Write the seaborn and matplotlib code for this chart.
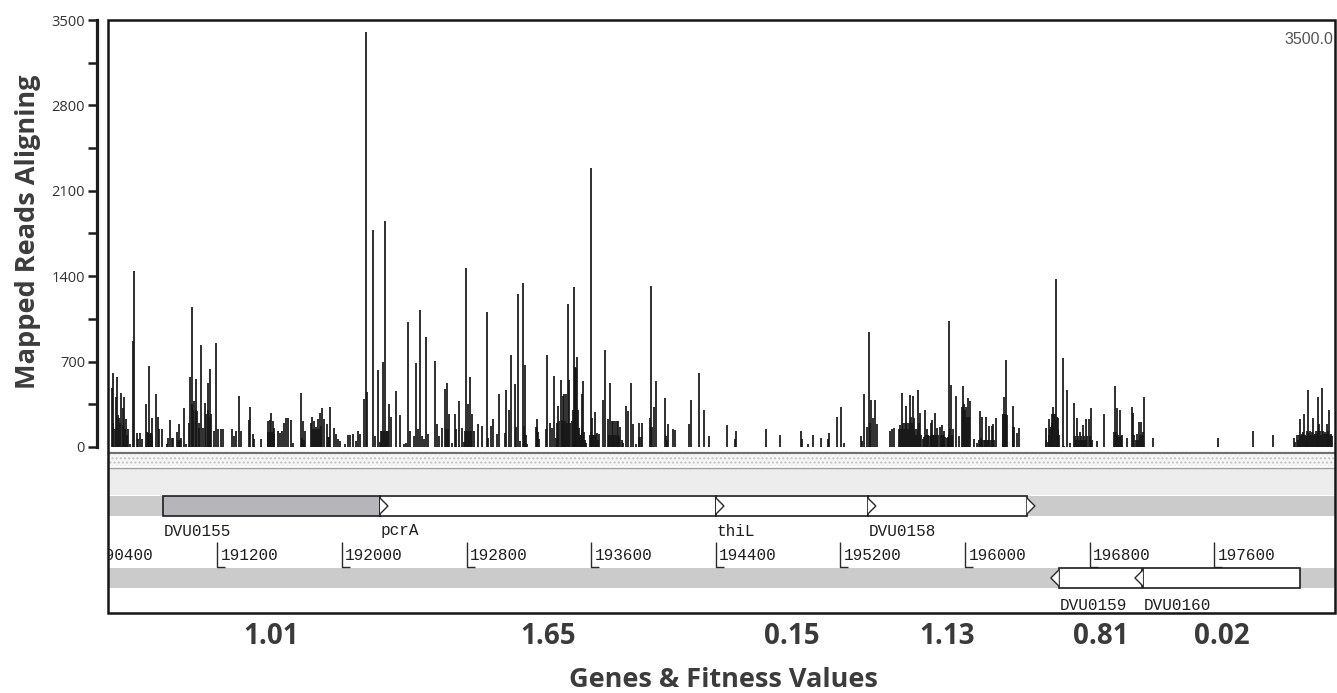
import matplotlib
matplotlib.use("Agg")
import matplotlib.pyplot as plt
from matplotlib.patches import Rectangle, Polygon
from matplotlib.ticker import MultipleLocator, FixedLocator
import pandas as pd
import seaborn as sns

# ---------------------------------------------------------------- data
# read depth: genome coordinate (bp) and number of mapped reads
read_pos = [
    190522, 190528, 190547, 190556, 190569, 190581, 190592, 190601, 190614, 190628,
    190641, 190657, 190665, 190682, 190693, 190705, 190716, 190742, 190753, 190763,
    190772, 190783, 190806, 190817, 190827, 190845, 190875, 190883, 190896, 190907,
    190917, 190943, 190956, 190967, 190986, 190997, 191024, 191035, 191050, 191061,
    191071, 191084, 191095, 191106, 191123, 191137, 191151, 191161, 191180, 191193,
    191206, 191221, 191234, 191294, 191307, 191320, 191337, 191354, 191403, 191411,
    191431, 191437, 191482, 191523, 191535, 191544, 191557, 191566, 191589, 191602,
    191615, 191630, 191641, 191655, 191671, 191684, 191735, 191752, 191763, 191799,
    191808, 191821, 191836, 191849, 191860, 191871, 191882, 191906, 191923, 191949,
    191964, 191975, 191985, 192021, 192038, 192053, 192068, 192090, 192100, 192113,
    192139, 192152, 192158, 192199, 192214, 192229, 192244, 192263, 192276, 192287,
    192300, 192315, 192345, 192372, 192400, 192411, 192426, 192437, 192465, 192474,
    192489, 192502, 192512, 192527, 192540, 192554, 192597, 192612, 192625, 192644,
    192661, 192672, 192687, 192708, 192725, 192734, 192749, 192769, 192783, 192796,
    192807, 192822, 192834, 192846, 192875, 192901, 192929, 192939, 192957, 192971,
    192993, 193010, 193046, 193055, 193074, 193085, 193109, 193117, 193128, 193143,
    193164, 193173, 193186, 193246, 193254, 193267, 193310, 193318, 193335, 193346,
    193361, 193373, 193388, 193405, 193416, 193427, 193439, 193451, 193459, 193475,
    193489, 193498, 193509, 193522, 193539, 193549, 193567, 193596, 193607, 193624,
    193639, 193650, 193678, 193689, 193708, 193721, 193734, 193742, 193753, 193764,
    193775, 193785, 193803, 193824, 193835, 193856, 193871, 193888, 193910, 193925,
    193977, 193985, 194000, 194015, 194072, 194092, 194126, 194137, 194229, 194238,
    194290, 194326, 194354, 194469, 194525, 194531, 194720, 194810, 194946, 194953,
    194991, 195025, 195073, 195118, 195126, 195178, 195206, 195225, 195330, 195340,
    195352, 195369, 195383, 195394, 195407, 195422, 195433, 195518, 195533, 195546,
    195576, 195583, 195593, 195618, 195625, 195644, 195651, 195664, 195672, 195700,
    195710, 195730, 195742, 195753, 195779, 195789, 195809, 195821, 195837, 195850,
    195867, 195882, 195899, 195908, 195925, 195942, 195959, 195980, 195989, 196004,
    196017, 196032, 196059, 196076, 196095, 196106, 196134, 196153, 196170, 196181,
    196200, 196241, 196251, 196260, 196267, 196305, 196315, 196333, 196348, 196517,
    196530, 196541, 196556, 196564, 196571, 196583, 196598, 196626, 196635, 196656,
    196672, 196697, 196717, 196738, 196757, 196778, 196794, 196807, 196845, 196892,
    196961, 196973, 196995, 197006, 197042, 197071, 197079, 197107, 197116, 197130,
    197152, 197204, 197625, 197850, 197976, 198113, 198128, 198148, 198161, 198176,
    198193, 198201, 198209, 198233, 198246, 198263, 198274, 198291, 198304, 198321,
    198336, 198349, 198356,
]
read_count = [
    487, 603, 411, 570, 241, 441, 323, 411, 227, 145,
    27, 871, 1446, 118, 63, 118, 63, 350, 118, 660,
    118, 235, 433, 246, 145, 145, 27, 77, 225, 77,
    77, 123, 192, 77, 318, 22, 570, 1145, 378, 561,
    296, 159, 835, 159, 364, 523, 638, 268, 132, 849,
    145, 145, 145, 145, 90, 132, 422, 132, 225, 329,
    110, 63, 63, 214, 219, 282, 214, 159, 132, 118,
    132, 200, 235, 235, 219, 36, 441, 214, 132, 200,
    249, 214, 167, 227, 277, 320, 227, 189, 329, 153,
    104, 63, 49, 22, 96, 96, 110, 49, 132, 110,
    397, 3400, 450, 1780, 90, 633, 38, 698, 1850, 131,
    350, 249, 455, 263, 27, 36, 1024, 131, 90, 687,
    151, 1123, 90, 63, 904, 110, 707, 186, 90, 159,
    479, 523, 274, 36, 268, 145, 378, 159, 44, 1468,
    356, 570, 268, 132, 186, 170, 1104, 77, 172, 227,
    104, 433, 118, 465, 307, 756, 515, 167, 1254, 49,
    1342, 672, 22, 164, 227, 63, 145, 756, 200, 159,
    583, 77, 340, 548, 419, 433, 433, 1172, 548, 214,
    1309, 652, 739, 159, 433, 537, 36, 2290, 240, 285,
    118, 104, 386, 794, 227, 523, 214, 214, 214, 214,
    214, 160, 36, 337, 296, 523, 192, 22, 200, 200,
    241, 1323, 329, 537, 400, 186, 145, 137, 192, 383,
    605, 307, 90, 178, 63, 131, 145, 96, 131, 63,
    22, 96, 77, 63, 118, 246, 329, 36, 90, 49,
    433, 167, 939, 383, 241, 386, 192, 131, 151, 159,
    145, 180, 441, 337, 200, 430, 246, 419, 241, 465,
    282, 63, 301, 145, 200, 219, 282, 159, 167, 181,
    132, 77, 1030, 509, 145, 419, 90, 329, 501, 329,
    400, 378, 63, 36, 296, 246, 249, 175, 175, 186,
    235, 260, 411, 712, 263, 340, 167, 118, 153, 153,
    41, 227, 268, 329, 268, 1378, 235, 729, 11, 465,
    30, 364, 235, 120, 178, 233, 233, 318, 49, 268,
    501, 320, 301, 101, 77, 329, 282, 104, 203, 203,
    411, 77, 74, 131, 96, 77, 96, 227, 110, 268,
    82, 465, 118, 241, 110, 411, 186, 482, 110, 192,
    304, 104, 90,
]
# additional low-coverage positions inside the dense insertion clusters
low_pos = [
    190533, 190540, 190562, 190575, 190596, 190607, 190620,
    190748, 190758, 190768, 190778, 190950, 190962,
    191018, 191040, 191044, 191066, 191079, 191130, 191143, 191156,
    191528, 191540, 191550, 191561, 191741, 191746, 191757,
    191815, 191828, 191842, 191854, 191866, 191912, 191917,
    192250, 192257, 192268, 192281, 192293, 192666, 192680,
    192790, 192801, 192814, 192828,
    193168, 193180, 193250, 193261,
    193380, 193395, 193410, 193421, 193433, 193445, 193465,
    193484, 193494, 193503, 193514, 193527, 193533, 193544, 193555, 193561,
    193590, 193601, 193613, 193618, 193630, 193645,
    193715, 193727, 193738, 193748, 193758, 193769, 193780, 193795,
    193905, 193917, 193981, 193993, 194078, 194085, 195389,
    195588, 195600, 195606, 195612, 195631, 195638, 195657, 195678, 195686, 195694,
    195705, 195716,
    195736, 195748, 195759, 195765, 195772, 195784, 195796, 195802, 195815, 195828,
    195843, 195856, 195861, 195873, 195888, 195894, 195904, 195914, 195919,
    195985, 195995, 196000, 196010, 196024,
    196088, 196101, 196112, 196120, 196127, 196140, 196147, 196160, 196176, 196188,
    196245, 196256, 196263, 196310,
    196522, 196536, 196547, 196552, 196560, 196576, 196589, 196594, 196603,
    196703, 196710, 196724, 196731, 196744, 196751, 196764, 196771, 196785, 196800, 196813,
    196955, 196967, 196980, 196987, 197000,
    197085, 197097, 197111, 197122, 197137, 197145,
    198118, 198135, 198142, 198155, 198168, 198183, 198188, 198197, 198215, 198221,
    198228, 198239, 198252, 198257, 198268, 198280, 198285, 198297, 198310, 198316,
    198327, 198331, 198343,
]
low_count = [
    200, 150, 260, 200, 180, 150, 100,
    120, 110, 110, 100, 60, 60,
    200, 350, 300, 300, 200, 270, 300, 250,
    120, 120, 120, 110, 70, 60, 60,
    150, 150, 150, 150, 170, 80, 80,
    130, 130, 130, 130, 130, 150, 150,
    130, 130, 130, 130,
    170, 100, 160, 120,
    200, 210, 220, 200, 210, 200, 200,
    300, 650, 650, 300, 100, 100, 150, 120, 60,
    100, 120, 100, 100, 100, 60,
    100, 100, 100, 100, 100, 100, 80, 60,
    80, 80, 160, 160, 90, 60, 200,
    150, 200, 150, 200, 150, 200, 200, 150, 100, 150,
    200, 100,
    80, 100, 100, 100, 90, 100, 100, 100, 100, 100,
    100, 100, 90, 80, 80, 100, 150, 100, 80,
    300, 350, 300, 250, 250,
    60, 70, 60, 60, 60, 60, 60, 60, 60, 60,
    270, 270, 270, 160,
    60, 100, 150, 160, 200, 270, 250, 150, 100,
    90, 60, 90, 60, 90, 60, 90, 60, 90, 90, 60,
    120, 120, 100, 80, 90,
    100, 60, 60, 100, 100, 120,
    40, 60, 100, 100, 120, 100, 90, 130, 130, 100,
    120, 100, 130, 110, 130, 130, 100, 130, 120, 110,
    130, 110, 100,
]

# genes: name, start, end, strand, fitness value
gene_names = ["DVU0155", "pcrA", "thiL", "DVU0158", "DVU0159", "DVU0160"]
gene_start = [190851, 192244, 194401, 195376, 196602, 197142]
gene_end = [192244, 194401, 195376, 196397, 197135, 198149]
gene_strand = [1, 1, 1, 1, -1, -1]
gene_fitness = ["1.01", "1.65", "0.15", "1.13", "0.81", "0.02"]
selected_gene = "DVU0155"

coord_ticks = [190400, 191200, 192000, 192800, 193600, 194400,
               195200, 196000, 196800, 197600]
read_ticks = [0, 700, 1400, 2100, 2800, 3500]
view_start, view_end = 190498, 198375
read_max = 3500

reads = pd.concat([
    pd.DataFrame({"pos": read_pos, "reads": read_count}),
    pd.DataFrame({"pos": low_pos, "reads": low_count}),
]).sort_values("pos")

# ---------------------------------------------------------------- figure
W, H, DPI = 1337, 693, 100
sns.set_theme(style="white")
plt.rcParams["font.family"] = ["Open Sans", "DejaVu Sans"]
plt.rcParams["hatch.linewidth"] = 1.0

fig = plt.figure(figsize=(W / DPI, H / DPI), dpi=DPI)
fig.patch.set_facecolor("white")


def fx(px):
    return px / W


def fy(py):
    return 1 - py / H


box_l, box_r, box_t, box_b = 108, 1335, 20, 613
base_y = 447
bp_per_px = (view_end - view_start) / (box_r - box_l)

# ---------------------------------------------------------------- coverage panel
ax = fig.add_axes([fx(box_l), fy(base_y), (box_r - box_l) / W, (base_y - box_t) / H])
ax.set_xlim(view_start, view_end)
ax.set_ylim(0, read_max)
ax.vlines(reads["pos"], 0, reads["reads"], color="#161616", lw=1.25)
ax.set_facecolor("white")
for s in ["top", "right", "bottom"]:
    ax.spines[s].set_visible(False)
ax.spines["left"].set_position(("outward", 8))
ax.spines["left"].set_linewidth(2.3)
ax.spines["left"].set_color("#1c1c1c")
ax.set_xticks([])
ax.yaxis.set_major_locator(FixedLocator(read_ticks))
ax.yaxis.set_minor_locator(MultipleLocator(350))
ax.tick_params(axis="y", which="both", left=True, direction="out", length=6.5,
               width=1.8, color="#1c1c1c", pad=2)
ax.tick_params(axis="y", which="major", labelsize=10.5, labelcolor="#333333")
ax.text(0.9985, 0.955, f"{read_max:.1f}", transform=ax.transAxes, ha="right",
        va="center", fontsize=11.5, color="#555555", family="Liberation Sans")

# ---------------------------------------------------------------- gene / coordinate track
tr = fig.add_axes([fx(box_l), fy(box_b), (box_r - box_l) / W, (box_b - base_y) / H])
tr.set_xlim(view_start, view_end)
tr.set_ylim(box_b - base_y, 0)
tr.axis("off")

x0, x1 = view_start, view_end
# separator lines and background bands
tr.axhline(6, color="#707070", lw=1.6)
tr.add_patch(Rectangle((x0, 8), x1 - x0, 11, facecolor="#f6f6f6", edgecolor="#c4c4c4",
                       hatch="....", lw=0))
tr.axhline(21, color="#a0a0a0", lw=1.0)
tr.add_patch(Rectangle((x0, 22), x1 - x0, 26, facecolor="#ededed", lw=0))
tr.add_patch(Rectangle((x0, 49), x1 - x0, 20, facecolor="#cbcbcb", lw=0))
tr.add_patch(Rectangle((x0, 121), x1 - x0, 20, facecolor="#cbcbcb", lw=0))

mono = ["Liberation Mono", "DejaVu Sans Mono"]
chev = 8 * bp_per_px
for name, s, e, strand, fit in zip(gene_names, gene_start, gene_end, gene_strand, gene_fitness):
    top = 49 if strand > 0 else 121
    face = "#b5b5ba" if name == selected_gene else "white"
    tr.add_patch(Rectangle((s, top), e - s, 20, facecolor=face, edgecolor="#1e1e1e",
                           lw=1.2, zorder=3))
    if strand > 0:
        pts = [(e, top + 2), (e + chev, top + 10), (e, top + 18)]
    else:
        pts = [(s, top + 2), (s - chev, top + 10), (s, top + 18)]
    tr.add_patch(Polygon(pts, closed=False, facecolor="white", edgecolor="#2a2a2a",
                         lw=1.0, zorder=4))
    label_y = 84 if strand > 0 else 158
    tr.text(s + 0.5 * bp_per_px, label_y, name, ha="left", va="center", fontsize=11.5,
            family=mono, color="#1e1e1e", zorder=5)
    # fitness value under each gene
    fig.text(fx(box_l) + ((s + e) / 2 - view_start) / bp_per_px / W, fy(637), fit,
             ha="center", va="center", fontsize=20, weight="bold", color="#3a3a3a")

# coordinate ruler
tick_len = 8 * bp_per_px
for c in coord_ticks:
    tr.plot([c, c, c + tick_len], [95, 119.5, 119.5], color="#2a2a2a", lw=1.0,
            clip_on=True, solid_capstyle="butt")
    tr.text(c + 3.3 * bp_per_px, 108.5, str(c), ha="left", va="center", fontsize=11.5,
            family=mono, color="#1e1e1e", clip_on=True)

# outer frame
fig.add_artist(Rectangle((fx(box_l), fy(box_b)), (box_r - box_l) / W, (box_b - box_t) / H,
                         transform=fig.transFigure, fill=False, edgecolor="#151515",
                         lw=1.8, zorder=10))

# axis titles
fig.text(fx(28), fy(232), "Mapped Reads Aligning", rotation=90, ha="center", va="center",
         fontsize=19.5, weight="bold", color="#3c3c3c")
fig.text(fx(723), fy(680), "Genes & Fitness Values", ha="center", va="center",
         fontsize=19.5, weight="bold", color="#3c3c3c")

fig.savefig("out.png", dpi=DPI, facecolor="white")
